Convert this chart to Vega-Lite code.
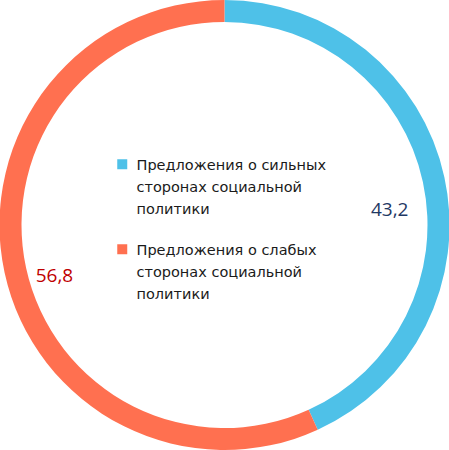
{
  "$schema": "https://vega.github.io/schema/vega-lite/v6.json",
  "width": 449,
  "height": 450,
  "padding": 0,
  "autosize": "none",
  "background": "white",
  "data": {
    "values": [
      {"category": "Предложения о сильных сторонах социальной политики", "value": 43.2, "label": "43,2", "ord": 1},
      {"category": "Предложения о слабых сторонах социальной политики", "value": 56.8, "label": "56,8", "ord": 2}
    ]
  },
  "encoding": {
    "theta": {"field": "value", "type": "quantitative", "stack": true},
    "order": {"field": "ord", "type": "quantitative"}
  },
  "layer": [
    {
      "mark": {"type": "arc", "outerRadius": 225, "innerRadius": 203},
      "encoding": {
        "color": {
          "field": "category",
          "type": "nominal",
          "sort": ["Предложения о сильных сторонах социальной политики", "Предложения о слабых сторонах социальной политики"],
          "scale": {"range": ["#4EC1E8", "#FF7050"]},
          "legend": {
            "title": null,
            "orient": "none",
            "legendX": 115,
            "legendY": 157,
            "symbolType": "square",
            "symbolSize": 100,
            "symbolStrokeWidth": 0,
            "labelFont": "DejaVu Sans",
            "labelFontSize": 14.5,
            "labelColor": "#1a1a1a",
            "labelLimit": 400,
            "rowPadding": 25,
            "labelExpr": "datum.label == 'Предложения о сильных сторонах социальной политики' ? ['Предложения  о сильных', 'сторонах социальной', 'политики'] : ['Предложения  о слабых', 'сторонах социальной', 'политики']",
            "labelBaseline": "top",
            "labelOffset": 7,
            "encode": {
              "labels": {"update": {"lineHeight": {"value": 22}, "dy": {"value": -5}}}
            }
          }
        }
      }
    },
    {
      "mark": {"type": "text", "radius": 169, "dy": 21, "font": "Open Sans", "fontSize": 19, "color": "#1F3864"},
      "encoding": {
        "text": {"field": "label"},
        "opacity": {"condition": {"test": "datum.ord == 1", "value": 1}, "value": 0}
      }
    },
    {
      "mark": {"type": "text", "radius": 174, "dy": 14, "font": "Open Sans", "fontSize": 19, "color": "#C00000"},
      "encoding": {
        "text": {"field": "label"},
        "opacity": {"condition": {"test": "datum.ord == 2", "value": 1}, "value": 0}
      }
    }
  ]
}
